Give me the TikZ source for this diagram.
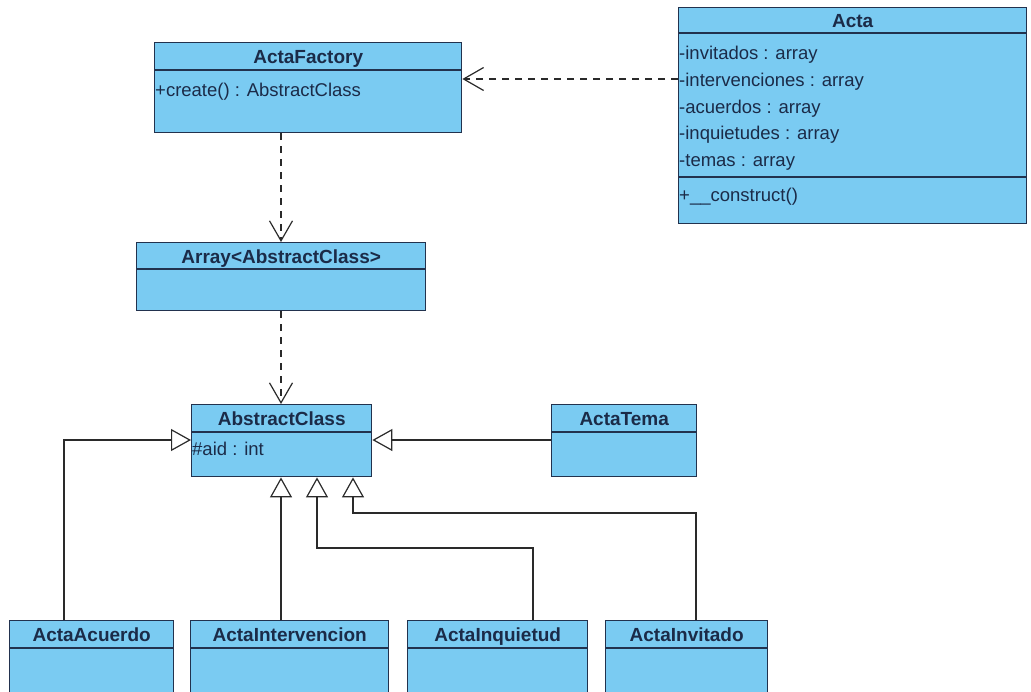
\documentclass[tikz,border=0pt]{standalone}
\usepackage{fontspec}
\setmainfont{Liberation Sans}
\usetikzlibrary{arrows.meta}
\definecolor{clsfill}{HTML}{7ACBF2}
\definecolor{clsline}{HTML}{22324E}
\definecolor{clstext}{HTML}{1B2B48}
\definecolor{wire}{HTML}{2A2A2A}
\begin{document}
\begin{tikzpicture}[x=1pt,y=-1pt,
  cls/.style={draw=clsline,fill=clsfill,line width=1.4pt,anchor=north west,inner sep=0pt},
  title/.style={font=\fontsize{19}{20}\selectfont\bfseries,text=clstext,inner sep=0pt,anchor=base},
  member/.style={font=\fontsize{18.5}{20}\selectfont,text=clstext,inner sep=0pt,anchor=base west},
  sep/.style={draw=clsline,line width=1.4pt},
  dep/.style={draw=wire,line width=1.2pt,dash pattern=on 7pt off 6pt,
    -{Straight Barb[length=20pt,width=23pt,line width=1.2pt]}},
  gen/.style={draw=wire,line width=1.2pt,
    -{Triangle[open,fill=white,length=20pt,width=22pt,line width=1.2pt]}}]
\useasboundingbox (0,0) rectangle (1031,691);
\clip (0,0) rectangle (1031,691);

% ActaFactory
\node[cls,minimum width=307pt,minimum height=90pt] (factory) at (154,42) {};
\draw[sep] (factory.west |- 0,70) -- (factory.east |- 0,70);
\node[title] (factoryT) at (factory.north |- 0,63) {ActaFactory};
\node[member] (factoryM1) at ([xshift=1pt]factory.west |- 0,96) {+create() : AbstractClass};

% Acta
\node[cls,minimum width=348pt,minimum height=216pt] (acta) at (678,7) {};
\draw[sep] (acta.west |- 0,33) -- (acta.east |- 0,33);
\draw[sep] (acta.west |- 0,177) -- (acta.east |- 0,177);
\node[title] (actaT) at (acta.north |- 0,27) {Acta};
\node[member] (actaA1) at ([xshift=1pt]acta.west |- 0,59) {-invitados : array};
\node[member] (actaA2) at ([xshift=1pt]acta.west |- 0,86) {-intervenciones : array};
\node[member] (actaA3) at ([xshift=1pt]acta.west |- 0,113) {-acuerdos : array};
\node[member] (actaA4) at ([xshift=1pt]acta.west |- 0,139) {-inquietudes : array};
\node[member] (actaA5) at ([xshift=1pt]acta.west |- 0,166) {-temas : array};
\node[member] (actaM1) at ([xshift=1pt]acta.west |- 0,201) {+\_\_construct()};

% Array<AbstractClass>
\node[cls,minimum width=289pt,minimum height=68pt] (array) at (136,242) {};
\draw[sep] (array.west |- 0,269) -- (array.east |- 0,269);
\node[title] (arrayT) at (array.north |- 0,263) {Array<AbstractClass>};

% AbstractClass
\node[cls,minimum width=180pt,minimum height=72pt] (abstract) at (191,404) {};
\draw[sep] (abstract.west |- 0,432) -- (abstract.east |- 0,432);
\node[title] (abstractT) at (abstract.north |- 0,425) {AbstractClass};
\node[member] (abstractA1) at ([xshift=1pt]abstract.west |- 0,455) {\#aid : int};

% ActaTema
\node[cls,minimum width=145pt,minimum height=72pt] (tema) at (551,404) {};
\draw[sep] (tema.west |- 0,432) -- (tema.east |- 0,432);
\node[title] (temaT) at (tema.north |- 0,425) {ActaTema};

% Bottom row of subclasses
\node[cls,minimum width=164pt,minimum height=90pt] (acuerdo) at (9,620) {};
\draw[sep] (acuerdo.west |- 0,648) -- (acuerdo.east |- 0,648);
\node[title] (acuerdoT) at (acuerdo.north |- 0,641) {ActaAcuerdo};

\node[cls,minimum width=198pt,minimum height=90pt] (interv) at (190,620) {};
\draw[sep] (interv.west |- 0,648) -- (interv.east |- 0,648);
\node[title] (intervT) at (interv.north |- 0,641) {ActaIntervencion};

\node[cls,minimum width=180pt,minimum height=90pt] (inquietud) at (407,620) {};
\draw[sep] (inquietud.west |- 0,648) -- (inquietud.east |- 0,648);
\node[title] (inquietudT) at (inquietud.north |- 0,641) {ActaInquietud};

\node[cls,minimum width=162pt,minimum height=90pt] (invitado) at (605,620) {};
\draw[sep] (invitado.west |- 0,648) -- (invitado.east |- 0,648);
\node[title] (invitadoT) at (invitado.north |- 0,641) {ActaInvitado};

% Dependencies
\draw[dep] (acta.west |- 0,79) -- (factory.east |- 0,79);
\draw[dep] (factory.south -| 281,0) -- (array.north -| 281,0);
\draw[dep] (array.south -| 281,0) -- (abstract.north -| 281,0);

% Generalizations
\draw[gen] (acuerdo.north -| 64,0) |- (abstract.west |- 0,440);
\draw[gen] (tema.west |- 0,440) -- (abstract.east |- 0,440);
\draw[gen] (interv.north -| 281,0) -- (abstract.south -| 281,0);
\draw[gen] (inquietud.north -| 533,0) |- (317,548) -- (abstract.south -| 317,0);
\draw[gen] (invitado.north -| 696,0) |- (353,513) -- (abstract.south -| 353,0);
\end{tikzpicture}
\end{document}
